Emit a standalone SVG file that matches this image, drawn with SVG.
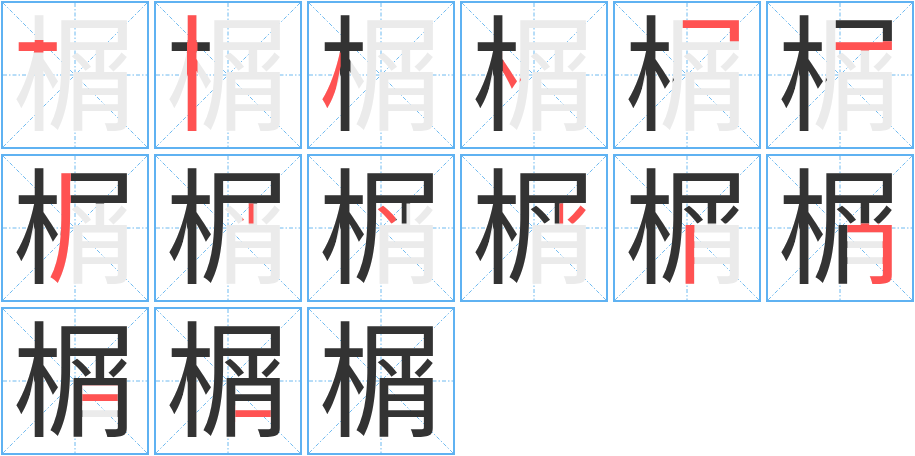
<svg xmlns="http://www.w3.org/2000/svg" xmlns:xlink="http://www.w3.org/1999/xlink" width="915" height="456" viewBox="0 0 915 456">
<style>
.frame{fill:#fff;stroke:#5fb2f2;stroke-width:2}
.guide{fill:none;stroke:#6fbaf0;stroke-width:1;stroke-dasharray:4 2 1.5 2}
.bg{fill:#ebebeb}
.done{fill:#333}
.cur{fill:#ff5252}
</style>
<defs>
<text id="ch" x="75" y="121" font-size="125" text-anchor="middle" font-family="'Noto Sans CJK SC',sans-serif">榍</text>
<g id="grid">
<rect class="frame" x="2" y="2" width="146" height="146"/>
<path class="guide" d="M3 75H147M75 3V147M3 3L147 147M147 3L3 147"/>
</g>
<polygon id="p1" points="17,40 58,40 58,52.5 17,52.5"/>
<polygon id="p2" points="34,14 44.5,14 44.5,132 34,132"/>
<polygon id="p3" points="34.7,52.5 34.7,66 25.5,110 20,117 10,104 28,52.5"/>
<polygon id="p4" points="43.8,52.5 50,52.5 62,80 53,93 43.8,75"/>
<polygon id="p5" points="70.8,17 130,17 130,41.2 116.8,41.2 116.8,29 70.8,29"/>
<polygon id="p6" points="70.8,41.2 130,41.2 130,50.5 70.8,50.5"/>
<polygon id="p7" points="60,17 70.8,17 70.8,75 71,95 69,113 64,127 61,134 46,130 55,110 59.5,88"/>
<polygon id="p8" points="89.5,50.5 100.5,50.5 100.5,70.5 89.5,70.5"/>
<polygon id="p9" points="71,50.5 89.5,50.5 89.5,70.5 71,70.5"/>
<polygon id="p10" points="100.5,50.5 130,50.5 130,70.5 100.5,70.5"/>
<polygon id="p11" points="73,70.5 82.4,70.5 82.4,132 73,132"/>
<polygon id="p12" points="82.4,70.5 130,70.5 130,133 100,133 100,116 117.6,116 117.6,79.5 82.4,79.5"/>
<polygon id="p13" points="82.4,79.5 117.6,79.5 117.6,99.5 82.4,99.5"/>
<polygon id="p14" points="82.4,99.5 117.6,99.5 117.6,116 82.4,116"/>
<clipPath id="s1"><use xlink:href="#p1"/></clipPath>
<clipPath id="s2"><use xlink:href="#p2"/></clipPath>
<clipPath id="s3"><use xlink:href="#p3"/></clipPath>
<clipPath id="s4"><use xlink:href="#p4"/></clipPath>
<clipPath id="s5"><use xlink:href="#p5"/></clipPath>
<clipPath id="s6"><use xlink:href="#p6"/></clipPath>
<clipPath id="s7"><use xlink:href="#p7"/></clipPath>
<clipPath id="s8"><use xlink:href="#p8"/></clipPath>
<clipPath id="s9"><use xlink:href="#p9"/></clipPath>
<clipPath id="s10"><use xlink:href="#p10"/></clipPath>
<clipPath id="s11"><use xlink:href="#p11"/></clipPath>
<clipPath id="s12"><use xlink:href="#p12"/></clipPath>
<clipPath id="s13"><use xlink:href="#p13"/></clipPath>
<clipPath id="s14"><use xlink:href="#p14"/></clipPath>
<clipPath id="d1"><use xlink:href="#p1"/></clipPath>
<clipPath id="d2"><use xlink:href="#p1"/><use xlink:href="#p2"/></clipPath>
<clipPath id="d3"><use xlink:href="#p1"/><use xlink:href="#p2"/><use xlink:href="#p3"/></clipPath>
<clipPath id="d4"><use xlink:href="#p1"/><use xlink:href="#p2"/><use xlink:href="#p3"/><use xlink:href="#p4"/></clipPath>
<clipPath id="d5"><use xlink:href="#p1"/><use xlink:href="#p2"/><use xlink:href="#p3"/><use xlink:href="#p4"/><use xlink:href="#p5"/></clipPath>
<clipPath id="d6"><use xlink:href="#p1"/><use xlink:href="#p2"/><use xlink:href="#p3"/><use xlink:href="#p4"/><use xlink:href="#p5"/><use xlink:href="#p6"/></clipPath>
<clipPath id="d7"><use xlink:href="#p1"/><use xlink:href="#p2"/><use xlink:href="#p3"/><use xlink:href="#p4"/><use xlink:href="#p5"/><use xlink:href="#p6"/><use xlink:href="#p7"/></clipPath>
<clipPath id="d8"><use xlink:href="#p1"/><use xlink:href="#p2"/><use xlink:href="#p3"/><use xlink:href="#p4"/><use xlink:href="#p5"/><use xlink:href="#p6"/><use xlink:href="#p7"/><use xlink:href="#p8"/></clipPath>
<clipPath id="d9"><use xlink:href="#p1"/><use xlink:href="#p2"/><use xlink:href="#p3"/><use xlink:href="#p4"/><use xlink:href="#p5"/><use xlink:href="#p6"/><use xlink:href="#p7"/><use xlink:href="#p8"/><use xlink:href="#p9"/></clipPath>
<clipPath id="d10"><use xlink:href="#p1"/><use xlink:href="#p2"/><use xlink:href="#p3"/><use xlink:href="#p4"/><use xlink:href="#p5"/><use xlink:href="#p6"/><use xlink:href="#p7"/><use xlink:href="#p8"/><use xlink:href="#p9"/><use xlink:href="#p10"/></clipPath>
<clipPath id="d11"><use xlink:href="#p1"/><use xlink:href="#p2"/><use xlink:href="#p3"/><use xlink:href="#p4"/><use xlink:href="#p5"/><use xlink:href="#p6"/><use xlink:href="#p7"/><use xlink:href="#p8"/><use xlink:href="#p9"/><use xlink:href="#p10"/><use xlink:href="#p11"/></clipPath>
<clipPath id="d12"><use xlink:href="#p1"/><use xlink:href="#p2"/><use xlink:href="#p3"/><use xlink:href="#p4"/><use xlink:href="#p5"/><use xlink:href="#p6"/><use xlink:href="#p7"/><use xlink:href="#p8"/><use xlink:href="#p9"/><use xlink:href="#p10"/><use xlink:href="#p11"/><use xlink:href="#p12"/></clipPath>
<clipPath id="d13"><use xlink:href="#p1"/><use xlink:href="#p2"/><use xlink:href="#p3"/><use xlink:href="#p4"/><use xlink:href="#p5"/><use xlink:href="#p6"/><use xlink:href="#p7"/><use xlink:href="#p8"/><use xlink:href="#p9"/><use xlink:href="#p10"/><use xlink:href="#p11"/><use xlink:href="#p12"/><use xlink:href="#p13"/></clipPath>
</defs>
<rect width="915" height="456" fill="#fff"/>
<g id="panel1" transform="translate(0,0)"><use xlink:href="#grid"/><use xlink:href="#ch" class="bg"/><use xlink:href="#ch" class="cur" clip-path="url(#s1)"/></g>
<g id="panel2" transform="translate(153,0)"><use xlink:href="#grid"/><use xlink:href="#ch" class="bg"/><use xlink:href="#ch" class="done" clip-path="url(#d1)"/><use xlink:href="#ch" class="cur" clip-path="url(#s2)"/></g>
<g id="panel3" transform="translate(306,0)"><use xlink:href="#grid"/><use xlink:href="#ch" class="bg"/><use xlink:href="#ch" class="done" clip-path="url(#d2)"/><use xlink:href="#ch" class="cur" clip-path="url(#s3)"/></g>
<g id="panel4" transform="translate(459,0)"><use xlink:href="#grid"/><use xlink:href="#ch" class="bg"/><use xlink:href="#ch" class="done" clip-path="url(#d3)"/><use xlink:href="#ch" class="cur" clip-path="url(#s4)"/></g>
<g id="panel5" transform="translate(612,0)"><use xlink:href="#grid"/><use xlink:href="#ch" class="bg"/><use xlink:href="#ch" class="done" clip-path="url(#d4)"/><use xlink:href="#ch" class="cur" clip-path="url(#s5)"/></g>
<g id="panel6" transform="translate(765,0)"><use xlink:href="#grid"/><use xlink:href="#ch" class="bg"/><use xlink:href="#ch" class="done" clip-path="url(#d5)"/><use xlink:href="#ch" class="cur" clip-path="url(#s6)"/></g>
<g id="panel7" transform="translate(0,153)"><use xlink:href="#grid"/><use xlink:href="#ch" class="bg"/><use xlink:href="#ch" class="done" clip-path="url(#d6)"/><use xlink:href="#ch" class="cur" clip-path="url(#s7)"/></g>
<g id="panel8" transform="translate(153,153)"><use xlink:href="#grid"/><use xlink:href="#ch" class="bg"/><use xlink:href="#ch" class="done" clip-path="url(#d7)"/><use xlink:href="#ch" class="cur" clip-path="url(#s8)"/></g>
<g id="panel9" transform="translate(306,153)"><use xlink:href="#grid"/><use xlink:href="#ch" class="bg"/><use xlink:href="#ch" class="done" clip-path="url(#d8)"/><use xlink:href="#ch" class="cur" clip-path="url(#s9)"/></g>
<g id="panel10" transform="translate(459,153)"><use xlink:href="#grid"/><use xlink:href="#ch" class="bg"/><use xlink:href="#ch" class="done" clip-path="url(#d9)"/><use xlink:href="#ch" class="cur" clip-path="url(#s10)"/></g>
<g id="panel11" transform="translate(612,153)"><use xlink:href="#grid"/><use xlink:href="#ch" class="bg"/><use xlink:href="#ch" class="done" clip-path="url(#d10)"/><use xlink:href="#ch" class="cur" clip-path="url(#s11)"/></g>
<g id="panel12" transform="translate(765,153)"><use xlink:href="#grid"/><use xlink:href="#ch" class="bg"/><use xlink:href="#ch" class="done" clip-path="url(#d11)"/><use xlink:href="#ch" class="cur" clip-path="url(#s12)"/></g>
<g id="panel13" transform="translate(0,306)"><use xlink:href="#grid"/><use xlink:href="#ch" class="bg"/><use xlink:href="#ch" class="done" clip-path="url(#d12)"/><use xlink:href="#ch" class="cur" clip-path="url(#s13)"/></g>
<g id="panel14" transform="translate(153,306)"><use xlink:href="#grid"/><use xlink:href="#ch" class="bg"/><use xlink:href="#ch" class="done" clip-path="url(#d13)"/><use xlink:href="#ch" class="cur" clip-path="url(#s14)"/></g>
<g id="panel15" transform="translate(306,306)"><use xlink:href="#grid"/><use xlink:href="#ch" class="done"/></g>
</svg>
